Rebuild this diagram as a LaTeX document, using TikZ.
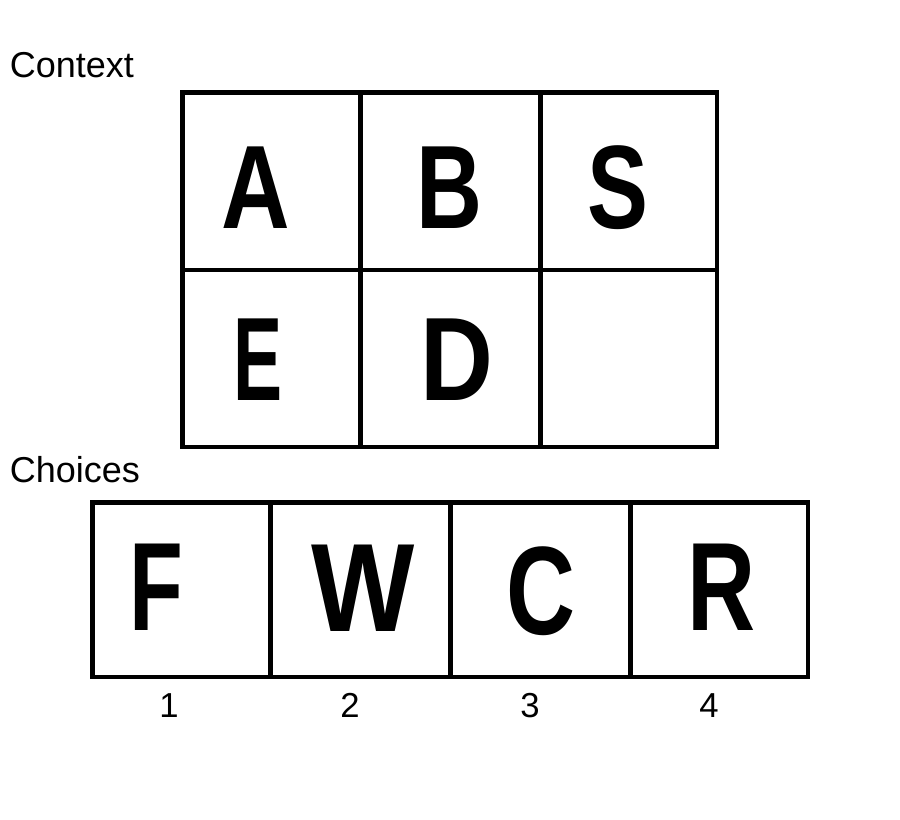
\documentclass[tikz,border=0pt]{standalone}
\usepackage{fontspec}
\setmainfont{Liberation Sans}
\newfontfamily\letterfont{Liberation Sans}[BoldFont={Liberation Sans Bold}]
\begin{document}
\begin{tikzpicture}[x=0.75pt,y=-0.75pt,
  gridline/.style={draw=black,line width=3.25pt,line join=miter},
  ctxletter/.style={inner sep=0pt,anchor=base,font=\letterfont\bfseries\fontsize{89pt}{89pt}\selectfont},
  chletter/.style={inner sep=0pt,anchor=base,font=\letterfont\bfseries\fontsize{94.3pt}{94.3pt}\selectfont},
  heading/.style={inner sep=0pt,anchor=base west,font=\fontsize{27pt}{27pt}\selectfont},
  numlabel/.style={inner sep=0pt,anchor=base,font=\fontsize{26pt}{26pt}\selectfont}]
\useasboundingbox[fill=white] (0,0) rectangle (900,820);

% headings
\node[heading] (ctx) at (9.5,78) {Context};
\node[heading] (chc) at (9.5,482) {Choices};

% context grid
\foreach \x/\xx in {182.5/360.5,360.5/540.5,540.5/717}{
  \draw[gridline] (\x,92.5) rectangle (\xx,270.3);
  \draw[gridline] (\x,270.3) rectangle (\xx,447);
}

% choices row
\foreach \x/\xx in {92.5/270.5,270.5/450.5,450.5/630.5,630.5/808}{
  \draw[gridline] (\x,502.5) rectangle (\xx,677);
}

% context letters
\node[ctxletter,xscale=0.80] (A) at (256,228.3) {A};
\node[ctxletter,xscale=0.77] (B) at (449,228.3) {B};
\node[ctxletter,xscale=0.77] (S) at (618,228.3) {S};
\node[ctxletter,xscale=0.62] (E) at (258,400) {E};
\node[ctxletter,xscale=0.85] (D) at (457,400) {D};

% choice letters
\node[chletter,xscale=0.70] (F) at (156,630) {F};
\node[chletter,xscale=0.87] (W) at (363,631) {W};
\node[chletter,xscale=0.76] (C) at (541,634) {C};
\node[chletter,xscale=0.75] (R) at (722,630) {R};

% numbers
\node[numlabel] (n1) at (169,717) {1};
\node[numlabel] (n2) at (350,717) {2};
\node[numlabel] (n3) at (530,717) {3};
\node[numlabel] (n4) at (709,717) {4};
\end{tikzpicture}
\end{document}
